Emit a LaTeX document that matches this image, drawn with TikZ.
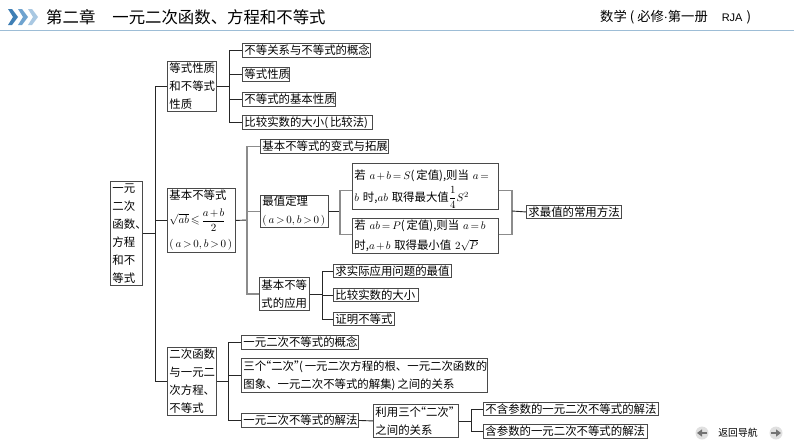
\documentclass[tikz,border=0pt]{standalone}
\usepackage{amsmath,amssymb}
\usepackage{fontspec}
\newfontfamily\cjk{Noto Sans CJK SC}
\newfontfamily\headfont{Liberation Sans}
\definecolor{rulecol}{HTML}{9DBDD6}
\definecolor{boxline}{HTML}{4A4A4A}
\definecolor{trunkline}{HTML}{8C8C8C}
\definecolor{chevA}{HTML}{3F7FB5}
\definecolor{chevB}{HTML}{6FA3CF}
\definecolor{chevC}{HTML}{A9C8E2}
\usetikzlibrary{arrows.meta}
\newcommand{\openq}{\makebox[5pt][r]{“}}
\newcommand{\closeq}{\makebox[5pt][l]{”}}
\tikzset{
  box/.style={draw=boxline, line width=0.9pt, fill=white, anchor=north west, inner xsep=2pt, inner ysep=0pt,
    align=left, font=\cjk\fontsize{11.4}{18}\selectfont,
    execute at begin node={\thickmuskip=3mu\medmuskip=2mu}},
  conn/.style={draw=black!85, line width=0.9pt},
  connlight/.style={draw=trunkline, line width=1.2pt},
  navarrow/.style={circle, minimum size=13pt, inner sep=0pt, fill=black!12}
}

\begin{document}
\begin{tikzpicture}[x=1pt, y=-1pt, line join=miter]
    \useasboundingbox (0,0) rectangle (794,447);

    % Header
    \foreach \x/\c in {8/chevA, 18/chevB, 28/chevC}
        \fill[\c] (\x,9) -- (\x+4,9) -- (\x+10,17) -- (\x+4,25) -- (\x,25) -- (\x+5,17) -- cycle;
    \draw[rulecol, line width=1.3pt] (0,30.5) -- (794,30.5);
    \node[anchor=west, inner sep=0pt, font=\cjk\fontsize{16.4}{18}\selectfont] (title) at (46,17)
        {第二章\hspace{17pt}一元二次函数、方程和不等式};
    \node[anchor=west, inner sep=0pt, font=\cjk\fontsize{13.3}{16}\selectfont] (book) at (600,17)
        {数学\hspace{3pt}(\hspace{3pt}必修$\cdot$第一册\hspace{14pt}{\headfont\fontsize{11}{14}\selectfont RJA}\hspace{4pt})};

    % Root
    \node[box, text width=28pt, minimum height=104pt] (root) at (110,181)
        {一元\\二次\\函数、\\方程\\和不\\等式};

    % Second level
    \node[box, text width=45pt, minimum height=50pt] (prop) at (167,61)
        {等式性质\\和不等式\\性质};
    \node[box, text width=64pt, minimum height=64pt] (basic) at (167,188)
        {基本不等式\\[6pt]\smash{$\sqrt{ab}\leqslant\dfrac{a+b}{2}$}\\[6pt]$(\,a>0,b>0\,)$};
    \node[box, text width=45pt, minimum height=68pt] (quad) at (167,347)
        {二次函数\\与一元二\\次方程、\\不等式};

    % Third level, top group
    \node[box, text width=124pt, minimum height=14pt] (concept) at (242,43) {不等关系与不等式的概念};
    \node[box, text width=43pt, minimum height=14pt] (eqprop) at (242,67) {等式性质};
    \node[box, text width=89pt, minimum height=14pt] (ineqprop) at (242,92) {不等式的基本性质};
    \node[box, text width=126pt, minimum height=14pt] (compare) at (242,115) {比较实数的大小(\,比较法)};

    % Third level, middle group
    \node[box, text width=124pt, minimum height=14pt] (variant) at (260,139) {基本不等式的变式与拓展};
    \node[box, text width=64pt, minimum height=32pt] (extreme) at (260,195)
        {最值定理\\$(\,a>0,b>0\,)$};
    \node[box, text width=46pt, minimum height=33pt] (apply) at (259,277) {基本不等\\式的应用};

    % Extreme value cases
    \node[box, text width=142pt, minimum height=46pt] (caseS) at (352,163)
        {若 $a+b=S$(\,定值),则当 $a=$\\[4pt]$b$ 时,$ab$ 取得最大值\smash{$\dfrac{1}{4}$}$S^2$};
    \node[box, text width=142pt, minimum height=35pt] (caseP) at (352,218)
        {若 $ab=P$(\,定值),则当 $a=b$\\[2pt]时,$a+b$ 取得最小值 \smash{$2\sqrt{P}$}};
    \node[box, text width=91pt, minimum height=13pt] (method) at (526,205) {求最值的常用方法};

    % Applications
    \node[box, text width=114pt, minimum height=13pt] (appA) at (333,264) {求实际应用问题的最值};
    \node[box, text width=81pt, minimum height=13pt] (appB) at (333,288) {比较实数的大小};
    \node[box, text width=57pt, minimum height=13pt] (appC) at (333,312) {证明不等式};

    % Third level, bottom group
    \node[box, text width=113pt, minimum height=14pt] (qconcept) at (241,335) {一元二次不等式的概念};
    \node[box, text width=242pt, minimum height=34pt] (three) at (241,358)
        {三个\openq 二次\closeq(\,一元二次方程的根、一元二次函数的\\图象、一元二次不等式的解集)\,之间的关系};
    \node[box, text width=113pt, minimum height=14pt] (solve) at (241,413) {一元二次不等式的解法};
    \node[box, text width=81pt, minimum height=33pt] (use) at (373,404) {利用三个\openq 二次\closeq\\之间的关系};
    \node[box, text width=171pt, minimum height=13pt] (noparam) at (483,402) {不含参数的一元二次不等式的解法};
    \node[box, text width=160pt, minimum height=14pt] (param) at (483,424) {含参数的一元二次不等式的解法};

    % Junctions of the brackets
    \coordinate (jRoot) at (155,233);
    \coordinate (jProp) at (229,86);
    \coordinate (jBasic) at (247,220);
    \coordinate (jQuad) at (228,381);
    \coordinate (jExt) at (340,211);
    \coordinate (jCase) at (512,211);
    \coordinate (jApp) at (322,294);
    \coordinate (jUse) at (471,420);

    % Connectors
    \draw[conn] (root.east) -- (root.east -| jRoot);
    \foreach \n in {prop, basic, quad}
        \draw[conn] (jRoot) |- (\n.west);

    \draw[conn] (prop.east) -- (prop.east -| jProp);
    \foreach \n in {concept, eqprop, ineqprop, compare}
        \draw[conn] (jProp) |- (\n.west);

    \draw[conn] (basic.east) -- (jBasic);
    \foreach \n in {variant, extreme, apply}
        \draw[connlight] (jBasic) |- (\n.west);

    \draw[conn] (extreme.east) -- (extreme.east -| jExt);
    \draw[connlight] (jExt) |- ([yshift=-4pt]caseS.west);
    \draw[connlight] (jExt) |- ([yshift=1.5pt]caseP.west);
    \draw[connlight] (jCase) |- ([yshift=-4pt]caseS.east);
    \draw[connlight] (jCase) |- ([yshift=1.5pt]caseP.east);
    \draw[conn] (jCase) -- (method.west);

    \draw[conn] (apply.east) -- (apply.east -| jApp);
    \foreach \n in {appA, appB, appC}
        \draw[conn] (jApp) |- (\n.west);

    \draw[conn] (quad.east) -- (quad.east -| jQuad);
    \foreach \n in {qconcept, three, solve}
        \draw[conn] (jQuad) |- (\n.west);
    \draw[conn] (solve.east) -- (use.west);
    \draw[conn] (use.east) -- (use.east -| jUse);
    \foreach \n in {noparam, param}
        \draw[conn] (jUse) |- (\n.west);

    % Navigation
    \node[navarrow] (prev) at (702,433) {};
    \node[navarrow] (next) at (776,433) {};
    \node[inner sep=0pt, font=\cjk\fontsize{9.8}{12}\selectfont] (nav) at (738,433) {返回导航};
    \draw[black!55, line width=1.4pt, -{Triangle[length=5pt,width=7pt]}] (next.center) ++(-5,0) -- ++(10,0);
    \draw[black!55, line width=1.4pt, -{Triangle[length=5pt,width=7pt]}] (prev.center) ++(5,0) -- ++(-10,0);
\end{tikzpicture}
\end{document}
